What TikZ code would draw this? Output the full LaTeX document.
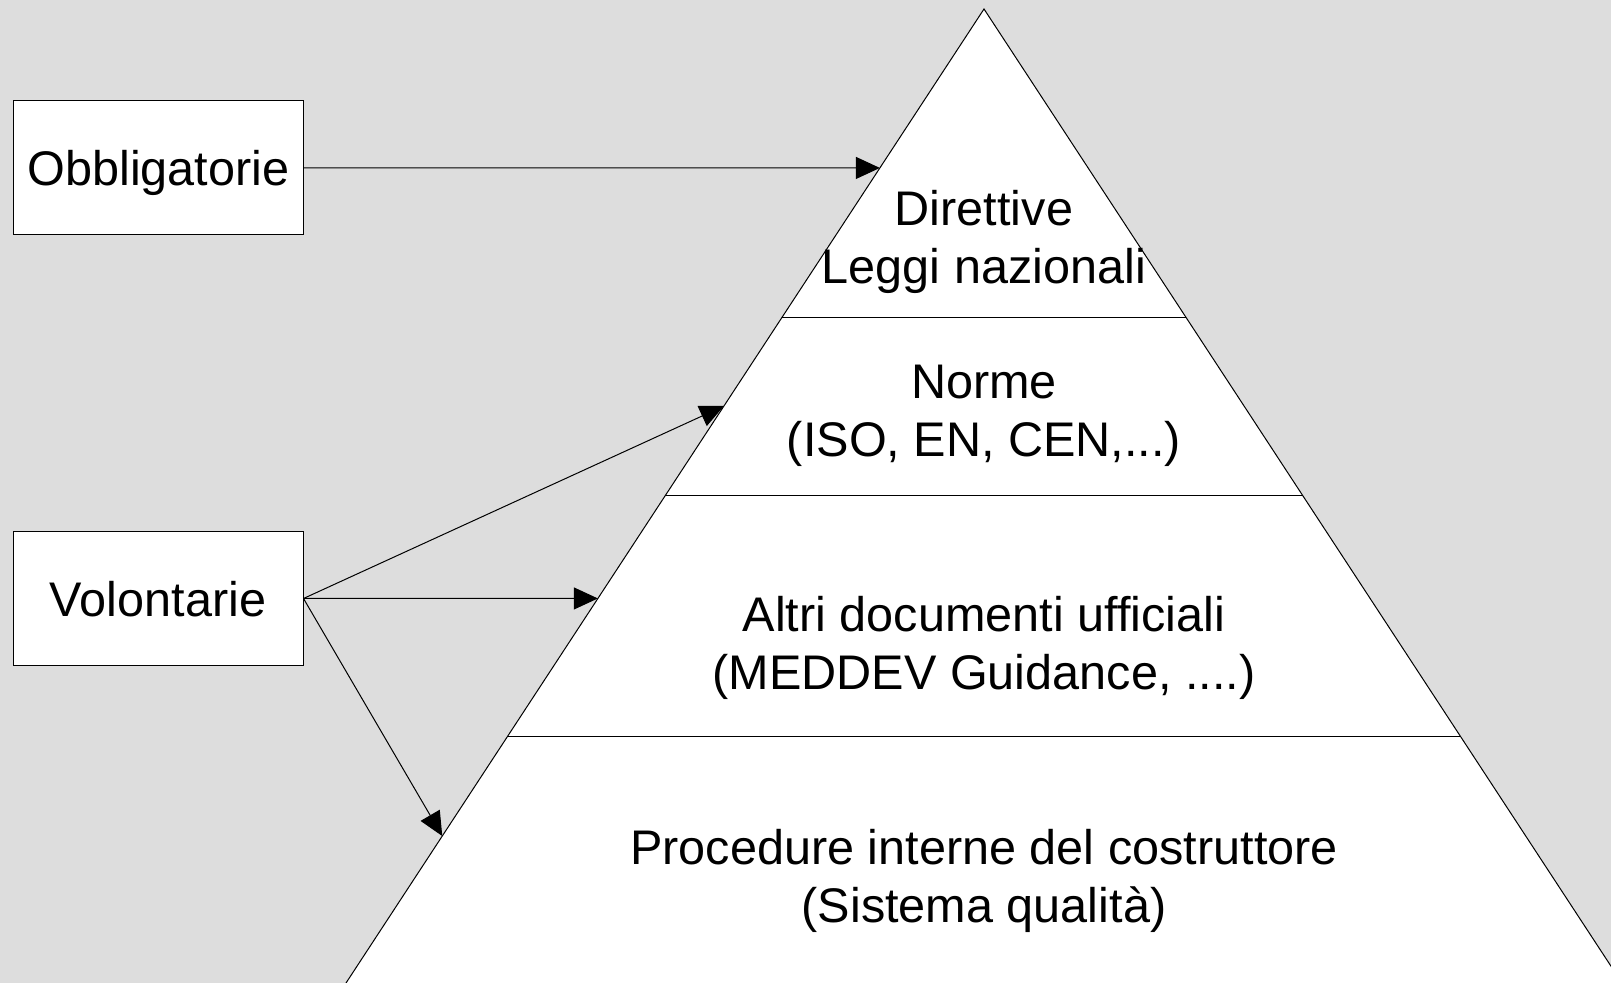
\documentclass[tikz,border=0pt]{standalone}
\usepackage{fontspec}
\setmainfont{Liberation Sans}
\usetikzlibrary{arrows.meta, calc}
\definecolor{backgray}{HTML}{DDDDDD}

\begin{document}
\begin{tikzpicture}
	[->,>={Triangle[length=12pt,width=11pt]}, x=0.5pt, y=-0.5pt, line width=0.5pt,
	side box/.style={draw,fill=white,minimum width=145pt,minimum height=67pt,text depth=0pt,font=\fontsize{24.3}{29.2}\selectfont},
	level text/.style={align=center,font=\fontsize{24.3}{29.2}\selectfont}]
	\useasboundingbox (0,0) rectangle (1611,983);
	\clip (0,0) rectangle (1611,983);
	\fill[backgray] (0,0) rectangle (1611,983);
	% pyramid
	\coordinate (top) at (984,9);
	\coordinate (bl) at (346,983);
	\coordinate (br) at (1622,983);
	\fill[white] (top) -- (bl) -- (br) -- cycle;
	\draw[-] (bl) -- (top) -- (br);
	\foreach \t in {0.3172,0.5,0.7474}
		\draw[-] ($(top)!\t!(bl)$) -- ($(top)!\t!(br)$);
	\node (Dir) [level text] at (984,242) {Direttive\\Leggi nazionali};
	\node (Nor) [level text] at (984,416) {Norme\\(ISO, EN, CEN,...)};
	\node (Alt) [level text] at (984,648) {Altri documenti ufficiali\\(MEDDEV Guidance, ....)};
	\node (Pro) [level text] at (984,881) {Procedure interne del costruttore\\(Sistema qualità)};
	% boxes on the left
	\node (Obl) [side box] at (158.5,168) {Obbligatorie};
	\node (Vol) [side box] at (158,598.5) {Volontarie};
	\coordinate (a1) at ($(top)!0.1632!(bl)$);
	\coordinate (a2) at ($(top)!0.4076!(bl)$);
	\coordinate (a3) at ($(top)!0.6052!(bl)$);
	\coordinate (a4) at ($(top)!0.8491!(bl)$);
	\path
	(Obl.east) edge (a1)
	(Vol.east) edge (a2)
	(Vol.east) edge (a3)
	(Vol.east) edge (a4);
\end{tikzpicture}
\end{document}
